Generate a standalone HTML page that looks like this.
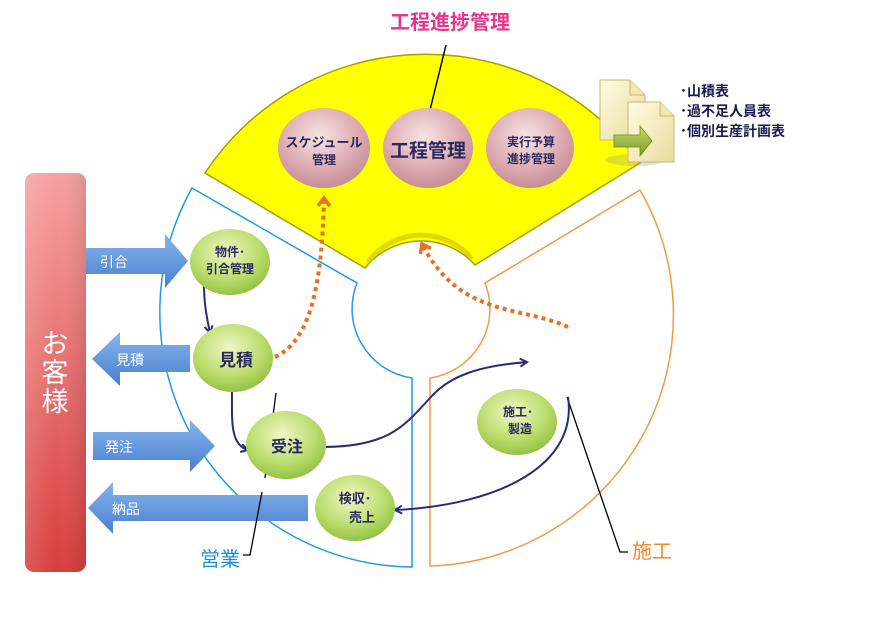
<!DOCTYPE html>
<html><head><meta charset="utf-8"><style>
html,body{margin:0;padding:0;background:#fff;}
svg{display:block;}
text{font-family:"Liberation Sans","Noto Sans CJK JP",sans-serif;}
</style></head><body>
<svg width="890" height="624" viewBox="0 0 890 624" xmlns="http://www.w3.org/2000/svg">
<defs>
<linearGradient id="red" x1="0" y1="0" x2="0" y2="1"><stop offset="0" stop-color="#f7a0a0"/><stop offset="1" stop-color="#d83c3c"/></linearGradient>
<linearGradient id="redh" x1="0" y1="0" x2="1" y2="0"><stop offset="0" stop-color="#fff" stop-opacity="0.15"/><stop offset="0.5" stop-color="#fff" stop-opacity="0"/><stop offset="1" stop-color="#000" stop-opacity="0.1"/></linearGradient>
<linearGradient id="blu" x1="0" y1="0" x2="0" y2="1"><stop offset="0" stop-color="#86b4ee"/><stop offset="1" stop-color="#4a7fcc"/></linearGradient>
<radialGradient id="grn" cx="0.45" cy="0.35" r="0.7"><stop offset="0" stop-color="#eef7c8"/><stop offset="0.6" stop-color="#bcdc6c"/><stop offset="1" stop-color="#8cbc3c"/></radialGradient>
<radialGradient id="pnk" cx="0.45" cy="0.35" r="0.7"><stop offset="0" stop-color="#f8e4e4"/><stop offset="0.6" stop-color="#dcaab0"/><stop offset="1" stop-color="#c08890"/></radialGradient>
<linearGradient id="doc" x1="0" y1="0" x2="1" y2="1"><stop offset="0" stop-color="#fffbe0"/><stop offset="1" stop-color="#e8dca0"/></linearGradient>
<linearGradient id="garr" x1="0" y1="0" x2="0" y2="1"><stop offset="0" stop-color="#c8dc6c"/><stop offset="1" stop-color="#789c28"/></linearGradient>
<marker id="nav" markerWidth="10" markerHeight="10" refX="8" refY="5" orient="auto" markerUnits="userSpaceOnUse"><path d="M1,1 L8,5 L1,9" fill="none" stroke="#2a2a78" stroke-width="2"/></marker>
<marker id="org" markerWidth="14" markerHeight="14" refX="10" refY="7" orient="auto" markerUnits="userSpaceOnUse"><path d="M2,1 L10,7 L2,13" fill="none" stroke="#e87020" stroke-width="3.5"/></marker>
</defs>

<path d="M192,188 L357,283 A70,70 0 0 0 412,378 L412,567 A255,255 0 0 1 192,188 Z" fill="#fff" stroke="#1e9be6" stroke-width="1.5"/>
<path d="M640,190 L485,283 A70,70 0 0 1 430,378 L430,566 A251,251 0 0 0 640,190 Z" fill="#fff" stroke="#f59a40" stroke-width="1.5"/>
<path d="M205,173 A265,265 0 0 1 640,163 L475,265 A72,72 0 0 0 365,268 Z" fill="#ffff00" stroke="#a8a000" stroke-width="1.5"/>
<path d="M368,262 A66,66 0 0 1 472,259" fill="none" stroke="#c8c000" stroke-width="5" opacity="0.6"/>

<text x="450" y="29" font-size="20" fill="#e8348c" text-anchor="middle" font-weight="bold">工程進捗管理</text>
<line x1="446" y1="45" x2="430" y2="110" stroke="#000" stroke-width="1.5"/>

<ellipse cx="324" cy="148" rx="46" ry="40" fill="url(#pnk)"/>
<ellipse cx="428" cy="148" rx="45" ry="40" fill="url(#pnk)"/>
<ellipse cx="530" cy="148" rx="44" ry="40" fill="url(#pnk)"/>
<text x="324" y="147" font-size="13" fill="#2a2a60" text-anchor="middle" font-weight="bold">スケジュール</text>
<text x="324" y="164" font-size="12" fill="#2a2a60" text-anchor="middle" font-weight="bold">管理</text>
<text x="428" y="157" font-size="19" fill="#2a2a60" text-anchor="middle" font-weight="bold">工程管理</text>
<text x="531" y="146" font-size="12" fill="#2a2a60" text-anchor="middle" font-weight="bold">実行予算</text>
<text x="531" y="163" font-size="12" fill="#2a2a60" text-anchor="middle" font-weight="bold">進捗管理</text>

<ellipse cx="635" cy="160" rx="30" ry="6" fill="#888" opacity="0.25"/>
<path d="M600,80 L630,80 L645,95 L645,140 L600,140 Z" fill="url(#doc)" stroke="#c8b870"/>
<path d="M630,80 L630,95 L645,95" fill="#f0e6b0" stroke="#c8b870"/>
<path d="M628,102 L660,102 L674,116 L674,162 L628,162 Z" fill="url(#doc)" stroke="#c8b870"/>
<path d="M660,102 L660,116 L674,116" fill="#f0e6b0" stroke="#c8b870"/>
<path d="M614,135 L640,135 L640,126 L652,141 L640,156 L640,147 L614,147 Z" fill="url(#garr)" stroke="#6a8a20" stroke-width="0.8"/>
<g font-size="14" fill="#1a1a50" font-weight="bold">
<text x="680" y="96">･山積表</text>
<text x="680" y="116">･過不足人員表</text>
<text x="680" y="136">･個別生産計画表</text>
</g>

<rect x="25" y="173" width="61" height="399" rx="9" fill="url(#red)"/>
<rect x="25" y="173" width="61" height="399" rx="9" fill="url(#redh)"/>
<g font-size="27" fill="#fff" text-anchor="middle">
<text x="55" y="353">お</text><text x="55" y="382">客</text><text x="55" y="411">様</text>
</g>

<path d="M86,248 L165,248 L165,234 L188,261 L165,288 L165,274 L86,274 Z" fill="url(#blu)"/>
<text x="100" y="267" font-size="14" fill="#fff">引合</text>
<path d="M190,345 L120,345 L120,332 L92,359 L120,386 L120,372 L190,372 Z" fill="url(#blu)"/>
<text x="116" y="365" font-size="14" fill="#fff">見積</text>
<path d="M93,432 L190,432 L190,420 L215,446 L190,472 L190,460 L93,460 Z" fill="url(#blu)"/>
<text x="105" y="452" font-size="14" fill="#fff">発注</text>
<path d="M308,495 L113,495 L113,482 L88,508 L113,534 L113,521 L308,521 Z" fill="url(#blu)"/>
<text x="112" y="514" font-size="14" fill="#fff">納品</text>

<path d="M276,393 L265,478 M262,492 L250,555 L243,555" fill="none" stroke="#000" stroke-width="1.3"/>
<path d="M567,397 L620,552 L628,552" fill="none" stroke="#000" stroke-width="1.3"/>

<path d="M204,284 C204,305 207,318 210,333" fill="none" stroke="#2a2a78" stroke-width="2" marker-end="url(#nav)"/>
<path d="M232,392 C232,420 230,445 248,450" fill="none" stroke="#2a2a78" stroke-width="2" marker-end="url(#nav)"/>
<path d="M326,447 C390,446 405,425 430,398 C450,375 480,366 527,362" fill="none" stroke="#2a2a78" stroke-width="2" marker-end="url(#nav)"/>
<path d="M568,397 C578,465 500,505 395,510" fill="none" stroke="#2a2a78" stroke-width="2" marker-end="url(#nav)"/>

<path d="M275,357 C312,340 322,280 324,198" fill="none" stroke="#e87020" stroke-width="4" stroke-dasharray="4,4" marker-end="url(#org)"/>
<path d="M568,327 C520,305 460,318 422,244" fill="none" stroke="#e87020" stroke-width="4" stroke-dasharray="4,4" marker-end="url(#org)"/>

<g fill="url(#grn)">
<ellipse cx="230" cy="262" rx="40" ry="33"/>
<ellipse cx="233" cy="358" rx="40" ry="34"/>
<ellipse cx="286" cy="445" rx="40" ry="34"/>
<ellipse cx="355" cy="508" rx="40" ry="33"/>
<ellipse cx="517" cy="422" rx="40" ry="33"/>
</g>
<g fill="#2a2a60" font-weight="bold" text-anchor="middle">
<text x="230" y="256" font-size="12">物件･</text>
<text x="230" y="273" font-size="12">引合管理</text>
<text x="236" y="366" font-size="17">見積</text>
<text x="287" y="452" font-size="16">受注</text>
<text x="355" y="503" font-size="13">検収･</text>
<text x="362" y="522" font-size="13">売上</text>
<text x="518" y="416" font-size="12">施工･</text>
<text x="520" y="433" font-size="12">製造</text>
</g>

<text x="200" y="566" font-size="20" fill="#1a8ee0">営業</text>
<text x="632" y="558" font-size="20" fill="#f08a30">施工</text>
</svg>
</body></html>
